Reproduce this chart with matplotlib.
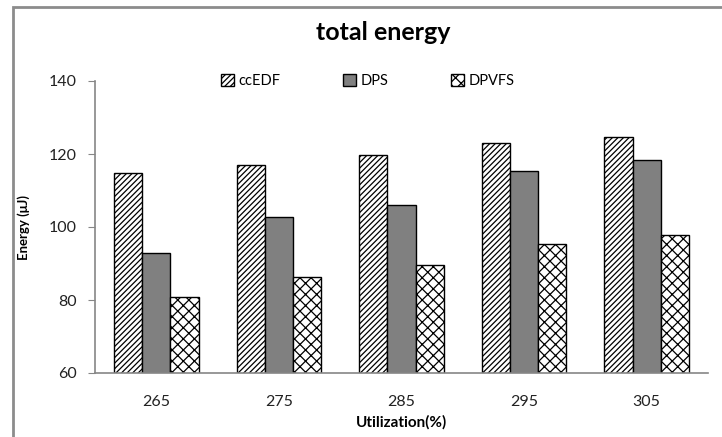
import numpy as np
import matplotlib.pyplot as plt
from matplotlib.patches import Rectangle

# Data
utilization = ['265', '275', '285', '295', '305']
cc_edf = [114.8, 116.9, 119.8, 123.0, 124.7]
dps = [92.9, 102.8, 106.0, 115.4, 118.4]
dpvfs = [80.9, 86.4, 89.6, 95.3, 97.8]

plt.rcParams['font.family'] = ['Lato', 'DejaVu Sans']
plt.rcParams['hatch.linewidth'] = 0.9


def main():
    fig = plt.figure(figsize=(7.22, 4.37), dpi=100)
    ax = fig.add_axes([95 / 722, 64 / 437, 613 / 722, 292 / 437])

    # chart area border (Excel style), runs off right/bottom edge
    fig.patches.append(Rectangle((12.5 / 722, -0.1), 1.0, 0.1 + (437 - 7) / 437,
                                 transform=fig.transFigure, fill=False,
                                 edgecolor='#8c8c8c', linewidth=2))

    x = np.arange(len(utilization))
    w = 0.23
    ax.bar(x - w, cc_edf, w, color='white', edgecolor='black', hatch='//////',
           linewidth=1, label='ccEDF')
    ax.bar(x, dps, w, color='#808080', edgecolor='black', linewidth=1, label='DPS')
    ax.bar(x + w, dpvfs, w, color='white', edgecolor='black', hatch='xxx',
           linewidth=1, label='DPVFS')

    ax.set_xlim(-0.5, 4.5)
    ax.set_ylim(60, 140)
    ax.set_yticks(np.arange(60, 141, 20))
    ax.set_xticks(x)
    ax.set_xticklabels(utilization, fontsize=11.5, color='#222222')
    ax.tick_params(axis='x', length=0, pad=16)
    ax.tick_params(axis='y', length=5, color='#868686', labelsize=11.5,
                   labelcolor='#222222', pad=8)

    for s in ['top', 'right']:
        ax.spines[s].set_visible(False)
    for s in ['left', 'bottom']:
        ax.spines[s].set_color('#868686')
        ax.spines[s].set_linewidth(1.2)

    ax.set_ylabel('Energy (μJ)', fontsize=9.5, fontweight='bold', labelpad=14)
    ax.set_xlabel('Utilization(%)', fontsize=11, fontweight='bold', labelpad=4)

    fig.text(383 / 722, 1 - 32 / 437, 'total energy', fontsize=18,
             fontweight='bold', ha='center', va='center')

    ax.legend(loc='center', bbox_to_anchor=(0.445, 1.0), ncol=3, frameon=False,
              fontsize=10.5, handlelength=0.9, handleheight=0.9,
              handletextpad=0.3, columnspacing=4.3)

    plt.savefig('out.png', dpi=100)


if __name__ == "__main__":
    main()
